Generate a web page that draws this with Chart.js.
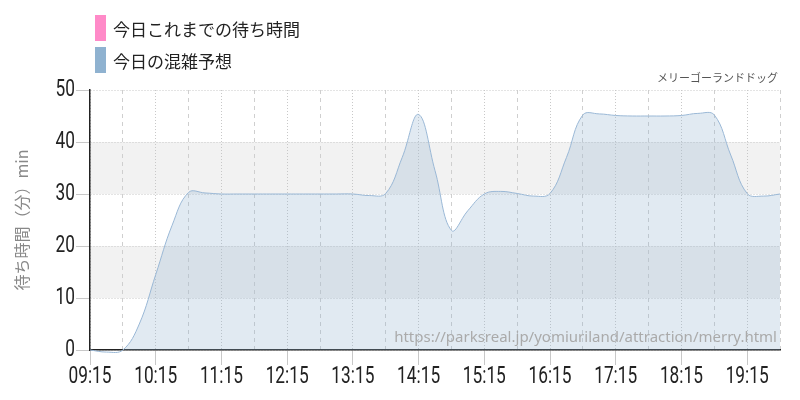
<!DOCTYPE html>
<html>
<head>
<meta charset="utf-8">
<script src="https://cdn.jsdelivr.net/npm/chart.js@4"></script>
<style>
  body { margin: 0; background: #fff; }
  #wrap { position: relative; width: 800px; height: 400px; }
  .leg { position: absolute; left: 95px; height: 26px; font: 17px "Noto Sans CJK JP", sans-serif; color: #222; display: flex; align-items: center; }
  .leg i { display: inline-block; width: 11px; height: 26px; margin-right: 7px; }
  #site { position: absolute; right: 22px; top: 69px; font: 11px "Noto Sans CJK JP", sans-serif; color: #555; }
  #url { position: absolute; right: 23px; top: 326px; font: 15px "Noto Sans", sans-serif; color: #aaa; }
</style>
</head>
<body>
<div id="wrap">
  <canvas id="chart" width="800" height="400"></canvas>
  <div class="leg" style="top:15px"><i style="background:#ff8ac8"></i>今日これまでの待ち時間</div>
  <div class="leg" style="top:47px"><i style="background:#8fb2d0"></i>今日の混雑予想</div>
  <div id="site">メリーゴーランドドッグ</div>
  <div id="url">https://parksreal.jp/yomiuriland/attraction/merry.html</div>
</div>
<script>
// 15-minute slots, 09:15 - 19:45
const times = ['09:15','09:30','09:45','10:00','10:15','10:30','10:45','11:00','11:15','11:30','11:45',
  '12:00','12:15','12:30','12:45','13:00','13:15','13:30','13:45','14:00','14:15','14:30','14:45',
  '15:00','15:15','15:30','15:45','16:00','16:15','16:30','16:45','17:00','17:15','17:30','17:45',
  '18:00','18:15','18:30','18:45','19:00','19:15','19:30','19:45'];
const forecast = [0, -0.4, 0, 5, 14.5, 24, 30.3, 30.2, 30, 30, 30,
  30, 30, 30, 30, 30, 30, 29.7, 30.1, 37, 45.3, 34.5, 23,
  26.8, 30, 30.5, 30.1, 29.6, 30.1, 37, 45.2, 45.4, 45.1, 45, 45,
  45, 45.1, 45.5, 45.2, 37.5, 30.1, 29.6, 30];
const actual = []; // nothing recorded yet
const hourTicks = ['09:15','10:15','11:15','12:15','13:15','14:15','15:15','16:15','17:15','18:15','19:15'];
const halfTicks = ['09:45','10:45','11:45','12:45','13:45','14:45','15:45','16:45','17:45','18:45','19:45'];
const yTicks = [0, 10, 20, 30, 40, 50];
const bands = [[10, 20], [30, 40]];

const start = 9 * 60 + 15;
const toMin = t => { const [h, m] = t.split(':').map(Number); return h * 60 + m - start; };
const toLabel = v => { const t = v + start; return String(Math.floor(t / 60)).padStart(2, '0') + ':' + String(t % 60).padStart(2, '0'); };

const bandPlugin = {
  id: 'bands',
  beforeDraw(chart) {
    const { ctx, chartArea: a, scales: { y } } = chart;
    ctx.save();
    ctx.fillStyle = '#f2f2f2';
    bands.forEach(([lo, hi]) => {
      const y1 = y.getPixelForValue(hi), y2 = y.getPixelForValue(lo);
      ctx.fillRect(a.left, y1, a.right - a.left, y2 - y1);
    });
    ctx.restore();
  }
};

// no condensed font installed, so squeeze the tick labels by hand
const narrowTicks = {
  id: 'narrowTicks',
  afterDraw(chart) {
    const { ctx, scales: { x, y } } = chart;
    const put = (text, px, py, align) => {
      ctx.save();
      ctx.translate(px, py);
      ctx.scale(0.72, 1);
      ctx.font = '24px Roboto, sans-serif';
      ctx.fillStyle = '#222';
      ctx.textAlign = align;
      ctx.textBaseline = 'middle';
      ctx.fillText(text, 0, 0);
      ctx.restore();
    };
    x.ticks.forEach(t => put(toLabel(t.value), x.getPixelForValue(t.value), 377, 'center'));
    y.ticks.forEach(t => put(String(t.value), 75, y.getPixelForValue(t.value), 'right'));
  }
};

new Chart(document.getElementById('chart'), {
  type: 'line',
  data: {
    datasets: [
      {
        label: '今日これまでの待ち時間',
        data: actual,
        borderColor: '#ff8ac8',
        backgroundColor: '#ff8ac8',
        pointRadius: 0
      },
      {
        label: '今日の混雑予想',
        data: times.map((t, i) => ({ x: toMin(t), y: forecast[i] })),
        borderColor: '#9ab8d6',
        backgroundColor: 'rgba(146,180,210,0.28)',
        borderWidth: 1,
        pointRadius: 0,
        fill: 'origin',
        tension: 0.4,
        clip: 4
      }
    ]
  },
  options: {
    responsive: false,
    animation: false,
    layout: { padding: { top: 90, right: 20, left: 0, bottom: 0 } },
    plugins: { legend: { display: false }, tooltip: { enabled: false } },
    scales: {
      x: {
        type: 'linear',
        min: 0,
        max: toMin('19:45'),
        afterBuildTicks: s => { s.ticks = hourTicks.map(t => ({ value: toMin(t) })); },
        afterFit: s => { s.height = 50; },
        ticks: { callback: v => toLabel(v), color: 'rgba(0,0,0,0)', font: { size: 12 }, padding: 0, maxRotation: 0, autoSkip: false },
        grid: { color: '#c8c8c8', tickColor: '#c8c8c8', tickLength: 15, lineWidth: 1 },
        border: { color: '#222', width: 1.5, dash: [1, 2] }
      },
      x2: {
        type: 'linear',
        position: 'bottom',
        min: 0,
        max: toMin('19:45'),
        afterBuildTicks: s => { s.ticks = halfTicks.map(t => ({ value: toMin(t) })); },
        afterFit: s => { s.height = 0; },
        ticks: { display: false },
        grid: { color: '#cfcfcf', drawTicks: false },
        border: { display: false, dash: [4, 4] }
      },
      y: {
        min: 0,
        max: 50,
        afterBuildTicks: s => { s.ticks = yTicks.map(v => ({ value: v })); },
        afterFit: s => { s.width = 90; },
        ticks: { color: 'rgba(0,0,0,0)', font: { size: 12 }, padding: 3 },
        grid: { color: '#c8c8c8', tickColor: '#c8c8c8', tickLength: 14 },
        border: { color: '#222', width: 1.5, dash: [1, 2] },
        title: {
          display: true,
          text: '待ち時間（分）min',
          color: '#888',
          font: { family: '"Noto Sans CJK JP", sans-serif', size: 16 },
          padding: { top: 12, bottom: 0 }
        }
      }
    }
  },
  plugins: [bandPlugin, narrowTicks]
});
</script>
</body>
</html>
